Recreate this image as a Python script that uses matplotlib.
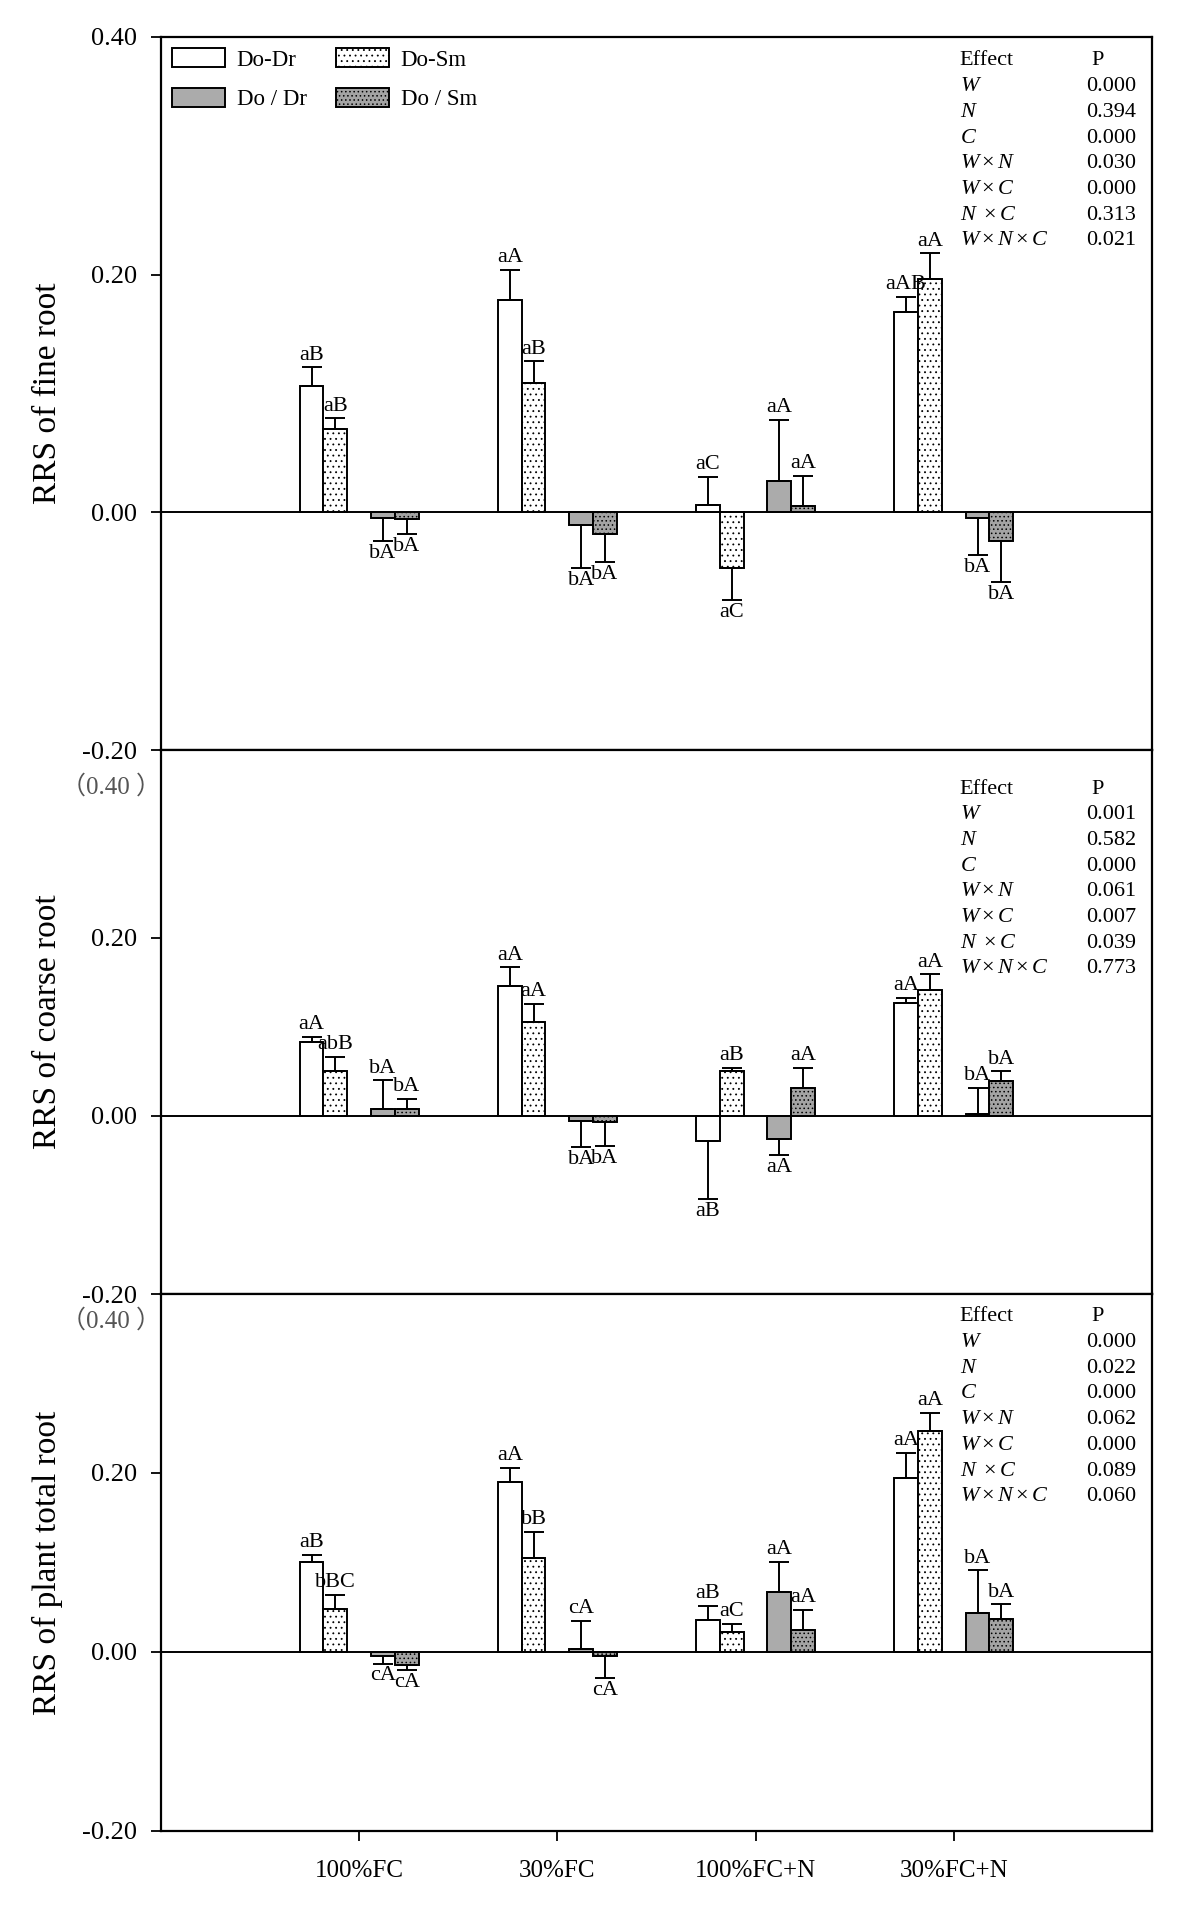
import numpy as np
import matplotlib
matplotlib.use("Agg")
import matplotlib.pyplot as plt

plt.rcParams['font.family'] = ['Liberation Serif', 'Noto Sans CJK SC']
plt.rcParams['mathtext.fontset'] = 'custom'
plt.rcParams['mathtext.rm'] = 'Liberation Serif'
plt.rcParams['mathtext.it'] = 'Liberation Serif:italic'
plt.rcParams['axes.unicode_minus'] = False
plt.rcParams['hatch.linewidth'] = 0.6

# categories and series
treatments = ['100%FC', '30%FC', '100%FC+N', '30%FC+N']
series = ['Do-Dr', 'Do-Sm', 'Do / Dr', 'Do / Sm']

# RRS of fine root (rows = series, cols = treatments)
fine_mean = [[0.106, 0.179, 0.006, 0.169],
             [0.070, 0.109, -0.047, 0.196],
             [-0.005, -0.011, 0.026, -0.005],
             [-0.006, -0.018, 0.005, -0.024]]
fine_err = [[0.016, 0.025, 0.024, 0.012],
            [0.009, 0.018, 0.027, 0.022],
            [0.019, 0.036, 0.052, 0.031],
            [0.012, 0.024, 0.026, 0.035]]
fine_let = [['aB', 'aA', 'aC', 'aAB'],
            ['aB', 'aB', 'aC', 'aA'],
            ['bA', 'bA', 'aA', 'bA'],
            ['bA', 'bA', 'aA', 'bA']]

# RRS of coarse root
coarse_mean = [[0.083, 0.146, -0.028, 0.127],
               [0.050, 0.106, 0.050, 0.141],
               [0.008, -0.006, -0.026, 0.002],
               [0.008, -0.007, 0.032, 0.039]]
coarse_err = [[0.006, 0.021, 0.065, 0.006],
              [0.016, 0.020, 0.004, 0.018],
              [0.032, 0.029, 0.018, 0.030],
              [0.011, 0.027, 0.022, 0.011]]
coarse_let = [['aA', 'aA', 'aB', 'aA'],
              ['abB', 'aA', 'aB', 'aA'],
              ['bA', 'bA', 'aA', 'bA'],
              ['bA', 'bA', 'aA', 'bA']]

# RRS of plant total root
total_mean = [[0.100, 0.190, 0.036, 0.194],
              [0.048, 0.105, 0.022, 0.247],
              [-0.005, 0.003, 0.067, 0.044],
              [-0.015, -0.005, 0.025, 0.037]]
total_err = [[0.008, 0.016, 0.015, 0.028],
             [0.016, 0.029, 0.009, 0.020],
             [0.008, 0.032, 0.034, 0.047],
             [0.005, 0.024, 0.022, 0.016]]
total_let = [['aB', 'aA', 'aB', 'aA'],
             ['bBC', 'bB', 'aC', 'aA'],
             ['cA', 'cA', 'aA', 'bA'],
             ['cA', 'cA', 'aA', 'bA']]

# ANOVA tables
effects = [r'$W$', r'$N$', r'$C$', r'$W\times N$', r'$W\times C$',
           r'$N\ \times C$', r'$W\times N\times C$']
fine_p = ['0.000', '0.394', '0.000', '0.030', '0.000', '0.313', '0.021']
coarse_p = ['0.001', '0.582', '0.000', '0.061', '0.007', '0.039', '0.773']
total_p = ['0.000', '0.022', '0.000', '0.062', '0.000', '0.089', '0.060']

panels = [
    ('RRS of fine root', fine_mean, fine_err, fine_let, fine_p, 0.40, 24),
    ('RRS of coarse root', coarse_mean, coarse_err, coarse_let, coarse_p, 0.411, 39),
    ('RRS of plant total root', total_mean, total_err, total_let, total_p, 0.40, 23),
]

offsets = [-0.24, -0.12, 0.12, 0.24]
width = 0.12
fills = ['white', 'white', '#ababab', '#a3a3a3']
hatches = ['', '...', '', '....']

fig = plt.figure(figsize=(11.81, 19.07), dpi=100)
rects = [[0.1363, 0.6067, 0.8391, 0.3739],
         [0.1363, 0.3214, 0.8391, 0.2853],
         [0.1363, 0.0399, 0.8391, 0.2816]]

x = np.arange(1, len(treatments) + 1)

for k, (ylab, means, errs, lets, pvals, ytop, toff) in enumerate(panels):
    ax = fig.add_axes(rects[k])
    handles = []
    for i in range(4):
        m = np.array(means[i])
        e = np.array(errs[i])
        lower = np.where(m < 0, e, 0)
        upper = np.where(m >= 0, e, 0)
        b = ax.bar(x + offsets[i], m, width, color=fills[i], edgecolor='black',
                   linewidth=1.4, hatch=hatches[i], label=series[i],
                   yerr=[lower, upper], capsize=7,
                   error_kw=dict(elinewidth=1.4, capthick=1.4, ecolor='black'))
        handles.append(b)
        for j in range(4):
            if m[j] >= 0:
                ax.annotate(lets[i][j], (x[j] + offsets[i], m[j] + e[j]),
                            xytext=(0, 2), textcoords='offset points',
                            ha='center', va='bottom', fontsize=16)
            else:
                ax.annotate(lets[i][j], (x[j] + offsets[i], m[j] - e[j]),
                            xytext=(0, -2), textcoords='offset points',
                            ha='center', va='top', fontsize=16)
    ax.axhline(0, color='black', linewidth=1.4, zorder=1)
    ax.set_xlim(0, 5)
    ax.set_ylim(-0.2, ytop)
    ax.set_xticks(x)
    if k == 2:
        ax.set_xticklabels(treatments, fontsize=18)
    else:
        ax.set_xticklabels([])
    if k == 0:
        ax.set_yticks([-0.2, 0, 0.2, 0.4])
    else:
        ax.set_yticks([-0.2, 0, 0.2])
        ax.text(-0.05, 0.37, '（0.40 ）', transform=ax.get_yaxis_transform(),
                ha='center', va='center', fontsize=18, color='#555555')
    ax.yaxis.set_major_formatter(plt.FormatStrFormatter('%.2f'))
    ax.tick_params(axis='y', labelsize=19, direction='out', length=7, width=1.3, pad=10)
    ax.tick_params(axis='x', direction='out', length=7, width=1.3, pad=14)
    for s in ax.spines.values():
        s.set_linewidth(1.6)
    ax.set_ylabel(ylab, fontsize=24)
    ax.yaxis.set_label_coords(-0.099, 0.5)

    # ANOVA table
    ax.annotate('Effect', (0.806, 1), xycoords='axes fraction',
                xytext=(0, -toff), textcoords='offset pixels',
                ha='left', va='center', fontsize=16)
    ax.annotate('P', (0.939, 1), xycoords='axes fraction',
                xytext=(0, -toff), textcoords='offset pixels',
                ha='left', va='center', fontsize=16)
    for r, (eff, p) in enumerate(zip(effects, pvals)):
        dy = toff + (r + 1) * 25.7
        ax.annotate(eff, (0.806, 1), xycoords='axes fraction',
                    xytext=(0, -dy), textcoords='offset pixels',
                    ha='left', va='center', fontsize=16)
        ax.annotate(p, (0.984, 1), xycoords='axes fraction',
                    xytext=(0, -dy), textcoords='offset pixels',
                    ha='right', va='center', fontsize=16)

    if k == 0:
        order = [0, 2, 1, 3]
        ax.legend([handles[o] for o in order], [series[o] for o in order],
                  ncol=2, loc='upper left', frameon=False, fontsize=16.5,
                  handlelength=2.3, handleheight=0.9, handletextpad=0.5,
                  columnspacing=1.3, labelspacing=0.75,
                  borderpad=0.3, borderaxespad=0.2)

fig.savefig('out.png', dpi=100)
